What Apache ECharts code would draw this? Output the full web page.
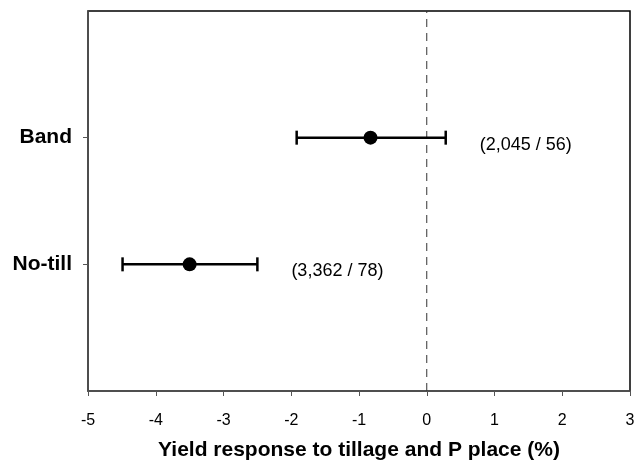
<!DOCTYPE html>
<html>
<head>
<meta charset="utf-8">
<script src="https://cdn.jsdelivr.net/npm/echarts@6/dist/echarts.min.js"></script>
<style>
html,body{margin:0;padding:0;background:#fff;}
#chart{width:636px;height:463px;}
</style>
</head>
<body>
<div id="chart"></div>
<script>
// Data
const categories = ['No-till', 'Band'];
const means = [-3.50, -0.83];
const lower = [-4.49, -1.92];
const upper = [-2.50, 0.28];
const counts = ['(3,362 / 78)', '(2,045 / 56)'];
const xTicks = [-5, -4, -3, -2, -1, 0, 1, 2, 3];
const refLineX = 0;
const xTitle = 'Yield response to tillage and P place (%)';

const FONT = '"Liberation Sans", Arial, sans-serif';
const catPos = categories.map((c, i) => i + 1);

const chart = echarts.init(document.getElementById('chart'));

const errData = categories.map((c, i) => [lower[i], upper[i], catPos[i], counts[i]]);
const ptData = categories.map((c, i) => [means[i], catPos[i]]);

chart.setOption({
  animation: false,
  backgroundColor: '#fff',
  grid: {left: 88, right: 6, top: 11, bottom: 72, containLabel: false, outerBoundsMode: 'none',
         show: true, borderColor: '#000', borderWidth: 1.5, backgroundColor: 'transparent'},
  xAxis: {
    type: 'value', min: xTicks[0], max: xTicks[xTicks.length - 1], interval: 1,
    splitLine: {show: false},
    axisLine: {show: true, onZero: false, lineStyle: {color: '#555', width: 1.5}},
    axisTick: {show: true, inside: false, length: 5, lineStyle: {color: '#555', width: 1}},
    axisLabel: {color: '#000', fontSize: 16, fontFamily: FONT, margin: 22},
    name: xTitle, nameLocation: 'middle', nameGap: 49,
    nameTextStyle: {color: '#000', fontSize: 21, fontWeight: 'bold', fontFamily: FONT}
  },
  yAxis: {
    type: 'value', min: 0, max: categories.length + 1, interval: 1,
    splitLine: {show: false},
    axisLine: {show: true, onZero: false, lineStyle: {color: '#555', width: 1.5}},
    axisTick: {show: true, length: 5, customValues: catPos, lineStyle: {color: '#555', width: 1}},
    axisLabel: {
      color: '#000', fontSize: 21, fontWeight: 'bold', fontFamily: FONT, margin: 16,
      customValues: catPos,
      formatter: v => categories[Math.round(v) - 1] || ''
    }
  },
  series: [
    {
      type: 'line', silent: true, symbol: 'none', z: 1,
      data: [[refLineX, 0], [refLineX, categories.length + 1]],
      lineStyle: {color: '#333', width: 1, type: [8, 6]}
    },
    {
      type: 'custom',
      data: errData,
      encode: {x: [0, 1], y: 2},
      z: 3,
      renderItem: function (params, api) {
        const lo = api.coord([api.value(0), api.value(2)]);
        const hi = api.coord([api.value(1), api.value(2)]);
        const y = lo[1];
        const cap = 7;
        const st = {stroke: '#000', lineWidth: 2.5};
        return {
          type: 'group',
          children: [
            {type: 'line', shape: {x1: lo[0], y1: y, x2: hi[0], y2: y}, style: st},
            {type: 'line', shape: {x1: lo[0], y1: y - cap, x2: lo[0], y2: y + cap}, style: st},
            {type: 'line', shape: {x1: hi[0], y1: y - cap, x2: hi[0], y2: y + cap}, style: st},
            {type: 'text', x: hi[0] + 34, y: y + 7, style: {text: api.value(3), fill: '#000', fontSize: 18, fontFamily: FONT, align: 'left', verticalAlign: 'middle'}}
          ]
        };
      }
    },
    {
      type: 'scatter', data: ptData, symbol: 'circle', symbolSize: 14,
      itemStyle: {color: '#000', opacity: 1}, z: 5
    }
  ]
});
</script>
</body>
</html>
